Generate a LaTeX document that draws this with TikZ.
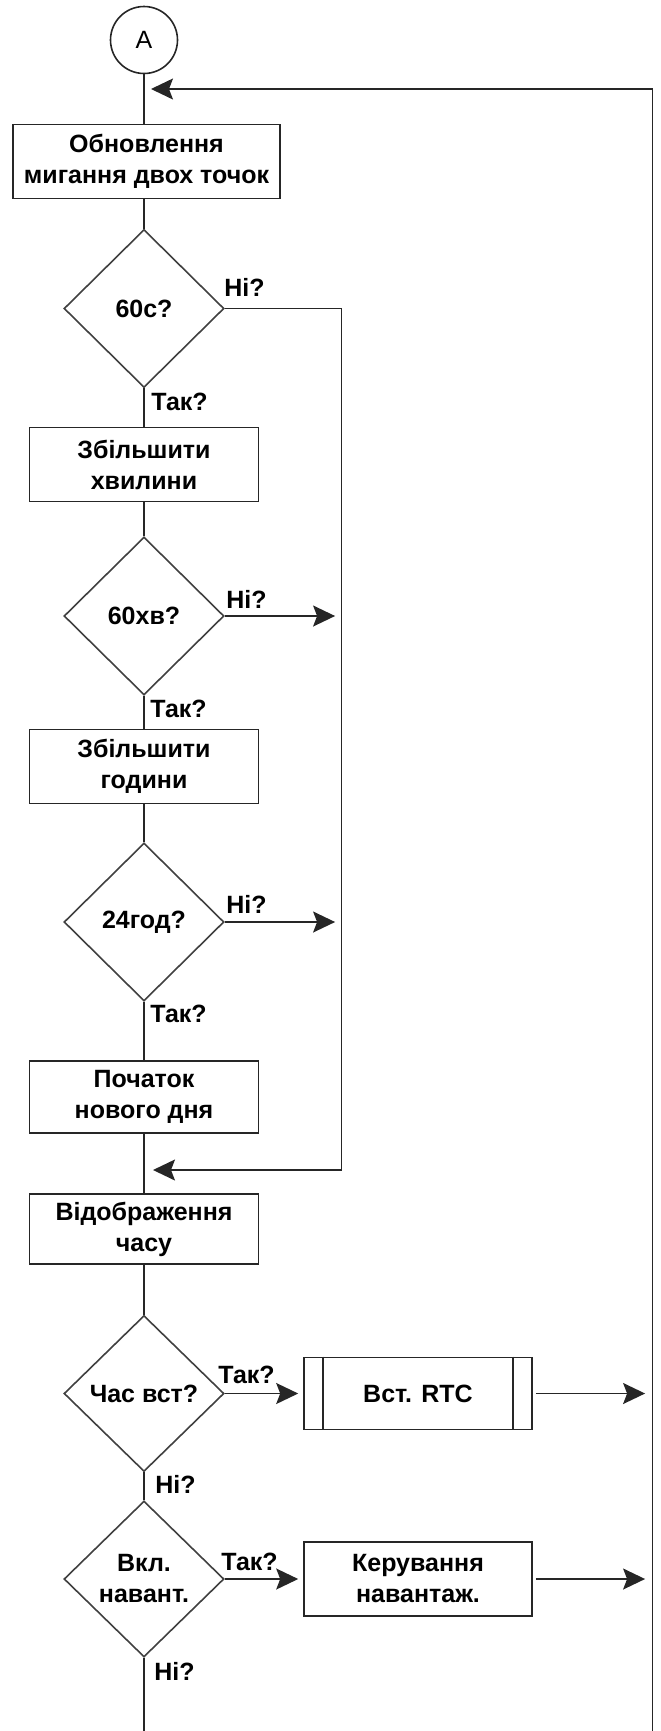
\documentclass[tikz,border=0pt]{standalone}
\usepackage{fontspec}
\setmainfont{Liberation Sans}
\usetikzlibrary{shapes.geometric,arrows.meta}
\begin{document}
\begin{tikzpicture}[x=0.5pt,y=-0.5pt,
  every node/.style={font=\fontsize{12.5}{15.5}\selectfont\bfseries},
  ln/.style={line width=0.8pt, draw=black!85},
  proc/.style={ln, draw, rectangle, align=center, inner sep=0pt,
    minimum width=114.5pt, minimum height=37pt},
  sideproc/.style={proc, minimum width=114pt, minimum height=36pt},
  decision/.style={ln, draw=black!75, diamond, align=center, inner sep=0pt,
    minimum width=80pt, minimum height=79pt},
  conn/.style={ln, draw, circle, minimum size=33.5pt, inner sep=0pt,
    font=\fontsize{12.5}{15.5}\selectfont},
  tag/.style={anchor=base west, inner sep=0pt},
  arr/.style={-{Stealth[length=11pt,width=10.5pt,inset=2pt]}},
]
\useasboundingbox (0,0) rectangle (660,1731);

% start connector and main column
\node[conn] (A) at (144,40) {A};
\node[proc, minimum width=133.5pt] (b1) at (146.5,161.5) {Обновлення\\мигання двох точок};
\node[decision] (d1) at (144,308.5) {60c?};
\node[proc] (b2) at (144,464.5) {Збільшити\\хвилини};
\node[decision] (d2) at (144,616) {60хв?};
\node[proc] (b3) at (144,766.5) {Збільшити\\години};
\node[decision] (d3) at (144,922) {24год?};
\node[proc, minimum height=36pt] (b4) at (144,1097) {Початок\\нового дня};
\node[proc, minimum height=35pt] (b5) at (144,1229) {Відображення\\часу};
\node[decision, minimum height=78pt] (d4) at (144,1393.5) {Час вст?};
\node[decision, minimum height=78pt] (d5) at (144,1579) {Вкл.\\навант.};

% side actions
\node[sideproc] (rtc) at (418,1393.5) {Вст. RTC};
\draw[ln] ([xshift=9.8pt]rtc.north west) -- ([xshift=9.8pt]rtc.south west);
\draw[ln] ([xshift=-9.8pt]rtc.north east) -- ([xshift=-9.8pt]rtc.south east);
\node[sideproc, minimum height=37pt] (ker) at (418,1579) {Керування\\навантаж.};

% bus coordinates
\coordinate (topin) at (151,89);
\coordinate (topright) at (652.5,89);
\coordinate (endright) at (652.5,1731);
\coordinate (nbus) at (341.5,1170);
\coordinate (retin) at (153,1170);
\coordinate (endmain) at (144,1731);

% main flow
\draw[ln] (A.south) -- (A.south |- b1.north);
\draw[ln] (d1.north |- b1.south) -- (d1.north);
\draw[ln] (d1.south) -- (b2.north);
\draw[ln] (b2.south) -- (d2.north);
\draw[ln] (d2.south) -- (b3.north);
\draw[ln] (b3.south) -- (d3.north);
\draw[ln] (d3.south) -- (b4.north);
\draw[ln] (b4.south) -- (b5.north);
\draw[ln] (b5.south) -- (d4.north);
\draw[ln] (d4.south) -- (d5.north);
\draw[ln] (d5.south) -- (endmain);

% "no" branches to the inner bus
\draw[ln, arr] (d1.east) -| (nbus) -- (retin);
\draw[ln, arr, shorten >=3.2pt] (d2.east) -- (d2.east -| nbus);
\draw[ln, arr, shorten >=3.2pt] (d3.east) -- (d3.east -| nbus);

% side actions and the outer loop back to the top
\draw[ln, arr, shorten >=2.5pt] (d4.east) -- (rtc.west);
\draw[ln, arr, shorten >=2.5pt] (d5.east) -- (ker.west);
\draw[ln, arr, shorten <=1.5pt, shorten >=3.7pt] (rtc.east) -- (rtc.east -| endright);
\draw[ln, arr, shorten <=1.5pt, shorten >=3.7pt] (ker.east) -- (ker.east -| endright);
\draw[ln, arr] (endright) -- (topright) -- (topin);

% branch labels
\node[tag] (n1) at (224,296) {Ні?};
\node[tag] (y1) at (151,410) {Так?};
\node[tag] (n2) at (226,608) {Ні?};
\node[tag] (y2) at (150,717) {Так?};
\node[tag] (n3) at (226,913) {Ні?};
\node[tag] (y3) at (150,1022) {Так?};
\node[tag] (y4) at (218,1383) {Так?};
\node[tag] (n4) at (155,1493) {Ні?};
\node[tag] (y5) at (221,1570) {Так?};
\node[tag] (n5) at (154,1680) {Ні?};
\end{tikzpicture}
\end{document}
